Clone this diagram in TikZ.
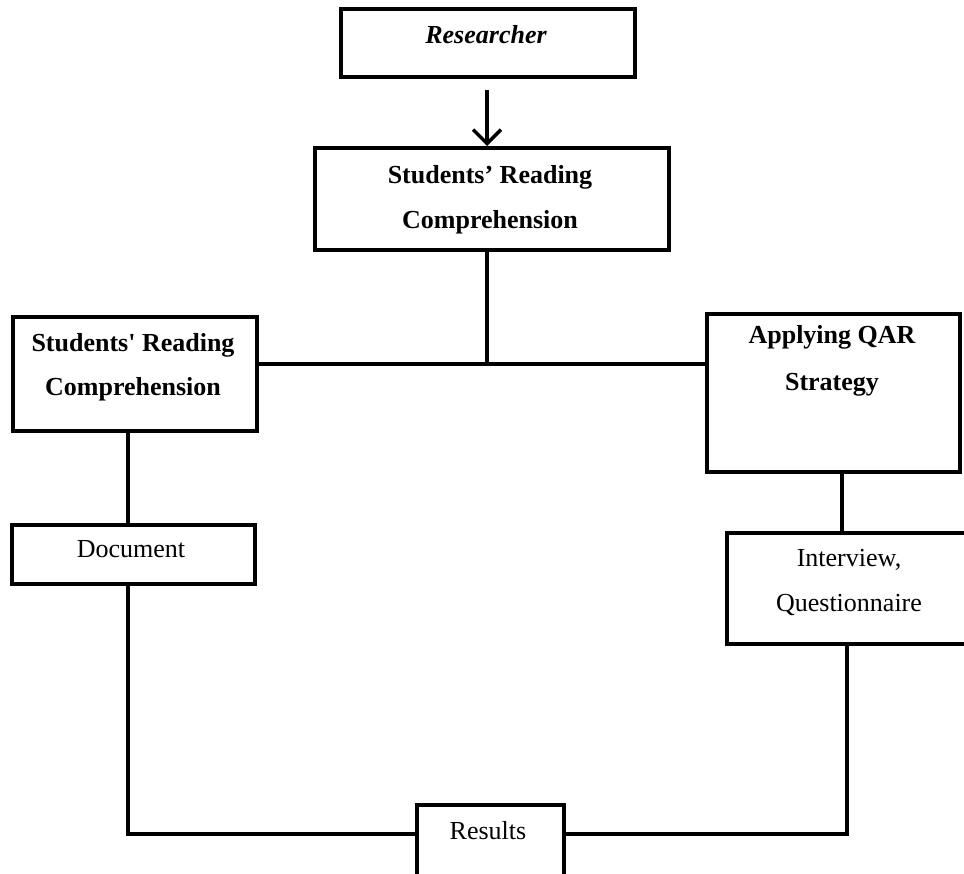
\documentclass[tikz,border=0pt]{standalone}
\usepackage{fontspec}
\setmainfont{Liberation Serif}
\usetikzlibrary{arrows.meta}
\begin{document}
\begin{tikzpicture}[x=1pt,y=-1pt,
  box/.style={draw=black,line width=4pt,rectangle,inner sep=0pt,anchor=north west},
  conn/.style={draw=black,line width=3.5pt},
  txt/.style={anchor=base,inner sep=0pt,font=\fontsize{26}{30}\selectfont},
  btxt/.style={anchor=base,inner sep=0pt,font=\fontsize{26}{30}\selectfont\bfseries},
  itxt/.style={anchor=base,inner sep=0pt,font=\fontsize{26}{30}\selectfont\bfseries\itshape}]
\useasboundingbox (0,0) rectangle (964,873);
\clip (0,0) rectangle (964,873);
% boxes
\node[box,minimum width=294pt,minimum height=68pt] (res) at (339,7) {};
\node[box,minimum width=354pt,minimum height=102pt] (top) at (313,146) {};
\node[box,minimum width=244pt,minimum height=114pt] (left) at (11,315) {};
\node[box,minimum width=253pt,minimum height=158pt] (right) at (705,312) {};
\node[box,minimum width=243pt,minimum height=59pt] (doc) at (10,523) {};
\node[box,minimum width=248pt,minimum height=111pt] (intv) at (725,531) {};
\node[box,minimum width=147pt,minimum height=100pt] (resu) at (415,803) {};
% texts
\node[itxt] (tres) at (486,43) {Researcher};
\node[btxt] (ttop1) at (490,183) {Students’ Reading};
\node[btxt] (ttop2) at (490,228) {Comprehension};
\node[btxt] (tleft1) at (133,351) {Students\textquotesingle\ Reading};
\node[btxt] (tleft2) at (133,395) {Comprehension};
\node[btxt] (tright1) at (832,343) {Applying QAR};
\node[btxt] (tright2) at (832,390) {Strategy};
\node[txt] (tdoc) at (131,557) {Document};
\node[txt] (tintv1) at (849,566) {Interview,};
\node[txt] (tintv2) at (849,611) {Questionnaire};
\node[txt] (tresu) at (488,839) {Results};
% connectors
\coordinate (a0) at (487,90);
\draw[conn,-{Straight Barb[length=14pt,width=28pt]}] (a0) -- (a0 |- top.north);
\coordinate (j) at (487,364);
\draw[conn] (top.south -| j) -- (j);
\draw[conn] (left.east |- j) -- (right.west |- j);
\coordinate (lx) at (128,834);
\draw[conn] (left.south -| lx) -- (doc.north -| lx);
\draw[conn] (doc.south -| lx) -- (lx) -- (resu.west |- lx);
\coordinate (rx1) at (842,0);
\draw[conn] (right.south -| rx1) -- (intv.north -| rx1);
\coordinate (rx) at (847,834);
\draw[conn] (intv.south -| rx) -- (rx) -- (resu.east |- rx);
\end{tikzpicture}
\end{document}
